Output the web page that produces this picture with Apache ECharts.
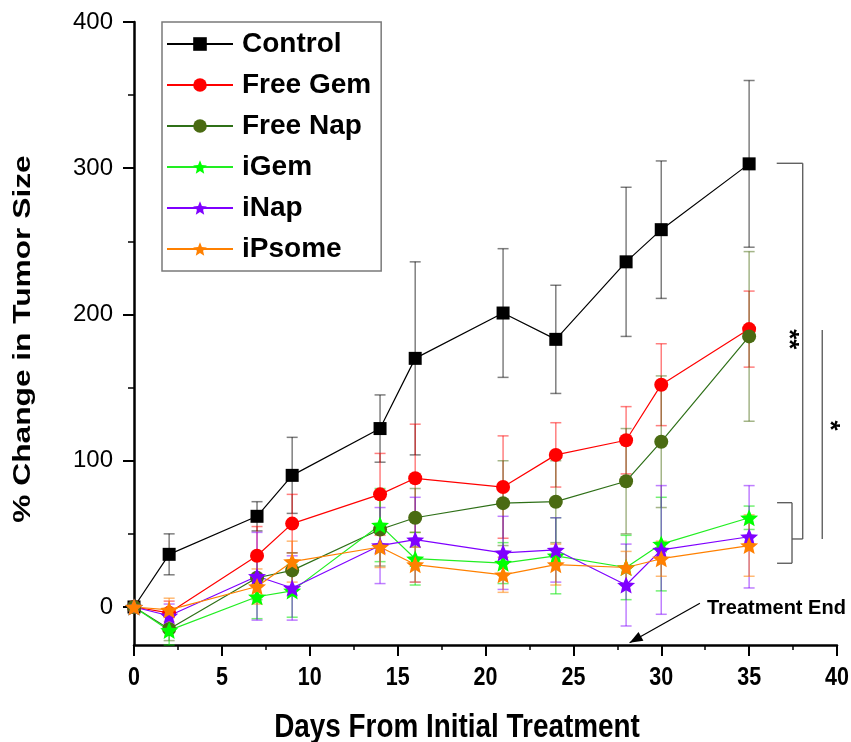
<!DOCTYPE html>
<html>
<head>
<meta charset="utf-8">
<script src="https://cdn.jsdelivr.net/npm/echarts@6/dist/echarts.min.js"></script>
<style>
  html, body { margin: 0; padding: 0; background: #fff; }
  #chart { width: 851px; height: 742px; }
</style>
</head>
<body>
<div id="chart"></div>
<script>
// Days after the first dose
const days = [0, 2, 7, 9, 14, 16, 21, 24, 28, 30, 35];

// Mean % change in tumor size per group, with error half-widths
const control    = [0, 36, 62, 90, 122, 170, 201, 183, 236, 258, 303];
const controlErr = [0, 14, 10, 26, 23, 66, 44, 37, 51, 47, 57];
const freeGem    = [0, -4, 35, 57, 77, 88, 82, 104, 114, 152, 190];
const freeGemErr = [0, 8, 20, 20, 28, 37, 35, 22, 23, 28, 26];
const freeNap    = [0, -15, 20, 25, 53, 61, 71, 72, 86, 113, 185];
const freeNapErr = [0, 8, 15, 12, 25, 20, 29, 28, 36, 45, 58];
const iGem       = [0, -16, 7, 11, 56, 33, 30, 35, 27, 43, 61];
const iGemErr    = [0, 10, 15, 18, 25, 18, 14, 26, 22, 32, 8];
const iNap       = [0, -6, 21, 13, 42, 46, 37, 39, 15, 39, 48];
const iNapErr    = [0, 8, 30, 22, 26, 29, 25, 22, 28, 44, 35];
const iPsome     = [0, -2, 14, 31, 41, 29, 22, 29, 27, 33, 42];
const iPsomeErr  = [0, 8, 12, 14, 14, 12, 12, 14, 11, 12, 21];

const groupNames = ['Control', 'Free Gem', 'Free Nap', 'iGem', 'iNap', 'iPsome'];

// Axis ticks
const xTicks = [0, 5, 10, 15, 20, 25, 30, 35, 40];
const yTicks = [0, 100, 200, 300, 400];
const yMinorTicks = [50, 150, 250, 350];

// Significance brackets, in axis units (day, % change)
const bracketSegments = [
  [36.57, 303.4, 38.05, 303.4],
  [38.05, 303.4, 38.05, 46.5],
  [37.44, 46.5, 38.05, 46.5],
  [37.44, 71.3, 37.44, 29.9],
  [36.59, 71.3, 37.44, 71.3],
  [36.59, 29.9, 37.44, 29.9],
  [39.16, 189.4, 39.16, 46.5]
];
const starMarks = [
  { text: '**', at: [37.25, 183] },
  { text: '*', at: [39.55, 124] }
];
const treatmentEnd = { text: 'Treatment End', at: [32.6, -0.7], arrowFrom: [32.2, 2.5], arrowTo: [28.2, -24.5] };

const STAR = 'path://M50,0L63.2,31.8L97.55,34.55L71.4,56.95L79.39,90.45L50,72.5L20.61,90.45L28.6,56.95L2.45,34.55L36.8,31.8Z';

const groups = [
  { name: 'Control',  vals: control, err: controlErr, color: '#000000', line: '#000000', errColor: 'rgba(0,0,0,0.5)', symbol: 'rect', size: 13 },
  { name: 'Free Gem', vals: freeGem, err: freeGemErr, color: '#ff0000', line: '#ff0000', errColor: 'rgba(255,0,0,0.5)', symbol: 'circle', size: 14 },
  { name: 'Free Nap', vals: freeNap, err: freeNapErr, color: '#4a6b12', line: '#2f7018', errColor: 'rgba(74,107,18,0.5)', symbol: 'circle', size: 14 },
  { name: 'iGem',     vals: iGem,    err: iGemErr,    color: '#00ff00', line: '#22ee22', errColor: 'rgba(0,230,0,0.55)', symbol: STAR, size: 18 },
  { name: 'iNap',     vals: iNap,    err: iNapErr,    color: '#7f00ff', line: '#7f00ff', errColor: 'rgba(127,0,255,0.5)', symbol: STAR, size: 18 },
  { name: 'iPsome',   vals: iPsome,  err: iPsomeErr,  color: '#ff8000', line: '#ff8000', errColor: 'rgba(255,128,0,0.55)', symbol: STAR, size: 18 }
];

function errorBarSeries(g) {
  return {
    type: 'custom',
    name: g.name + ' error',
    z: 2,
    silent: true,
    clip: false,
    data: days.map((d, i) => [d, g.vals[i], g.err[i]]),
    renderItem: function (params, api) {
      const x = api.value(0), y = api.value(1), e = api.value(2);
      if (!e) return null;
      const top = api.coord([x, y + e]);
      const bot = api.coord([x, y - e]);
      const half = 5.5;
      const style = { stroke: g.errColor, lineWidth: 1.5 };
      return {
        type: 'group',
        children: [
          { type: 'line', shape: { x1: top[0], y1: top[1], x2: bot[0], y2: bot[1] }, style: style },
          { type: 'line', shape: { x1: top[0] - half, y1: top[1], x2: top[0] + half, y2: top[1] }, style: style },
          { type: 'line', shape: { x1: bot[0] - half, y1: bot[1], x2: bot[0] + half, y2: bot[1] }, style: style }
        ]
      };
    }
  };
}

function lineSeries(g) {
  return {
    type: 'line',
    name: g.name,
    z: 3,
    data: days.map((d, i) => [d, g.vals[i]]),
    symbol: g.symbol,
    symbolSize: g.size,
    symbolKeepAspect: true,
    showAllSymbol: true,
    lineStyle: { color: g.line, width: 1.2 },
    itemStyle: { color: g.color, borderWidth: 0 },
    emphasis: { disabled: true },
    animation: false
  };
}

const series = [];
groups.forEach(g => series.push(errorBarSeries(g)));
groups.forEach(g => series.push(lineSeries(g)));

const chart = echarts.init(document.getElementById('chart'), null, { renderer: 'canvas' });

chart.setOption({
  animation: false,
  backgroundColor: '#ffffff',
  grid: { left: 134, right: 14, top: 22, bottom: 97, containLabel: false },
  legend: {
    data: groupNames,
    orient: 'vertical',
    left: 162,
    top: 22,
    itemWidth: 66,
    itemHeight: 17,
    itemGap: 13,
    padding: [8, 10, 8, 4],
    borderColor: '#7a7a7a',
    borderWidth: 1.5,
    selectedMode: false,
    textStyle: { fontFamily: 'Liberation Sans, Arial, sans-serif', fontWeight: 'bold', fontSize: 28, color: '#000', padding: [0, 0, 0, 4] }
  },
  xAxis: {
    type: 'value',
    min: 0,
    max: 40,
    interval: 5,
    axisLine: { onZero: false, lineStyle: { color: '#000', width: 2.5 } },
    axisTick: { show: true, length: 11, lineStyle: { color: '#000', width: 2 } },
    minorTick: { show: true, splitNumber: 2, length: 5, lineStyle: { color: '#000', width: 1.5 } },
    splitLine: { show: false },
    // tick labels are drawn below as condensed text
    axisLabel: { show: false }
  },
  yAxis: [
    {
      type: 'value',
      min: -26,
      max: 400,
      axisLine: { show: true, lineStyle: { color: '#000', width: 2.5 } },
      axisTick: { show: true, length: 11, lineStyle: { color: '#000', width: 2 }, customValues: yTicks },
      splitLine: { show: false },
      axisLabel: {
        margin: 21,
        fontFamily: 'Liberation Sans, Arial, sans-serif',
        fontSize: 24,
        color: '#000',
        customValues: yTicks
      }
    },
    {
      type: 'value',
      min: -26,
      max: 400,
      position: 'left',
      axisLine: { show: false },
      axisTick: { show: true, length: 6, lineStyle: { color: '#000', width: 1.5 }, customValues: yMinorTicks },
      axisLabel: { show: false },
      splitLine: { show: false }
    }
  ],
  series: series
});

// Axis titles, condensed x tick labels, brackets and the treatment note
const px = (p) => chart.convertToPixel({ xAxisIndex: 0, yAxisIndex: 0 }, p);
const graphics = [];

const yMinVal = chart.getModel().getComponent('yAxis', 0).axis.scale.getExtent()[0];
xTicks.forEach(v => {
  const p = px([v, yMinVal]);
  graphics.push({
    type: 'text',
    x: p[0], y: p[1] + 33,
    scaleX: 0.86,
    style: {
      text: String(v),
      font: 'bold 25px "Liberation Sans", Arial, sans-serif',
      fill: '#000',
      align: 'center',
      verticalAlign: 'middle'
    }
  });
});

graphics.push({
  type: 'text',
  x: 23, y: 339,
  rotation: Math.PI / 2,
  scaleX: 1.32,
  style: {
    text: '% Change in Tumor Size',
    font: 'bold 24px "Liberation Sans", Arial, sans-serif',
    fill: '#000',
    align: 'center',
    verticalAlign: 'middle'
  }
});
graphics.push({
  type: 'text',
  x: 457, y: 728,
  scaleX: 0.82,
  style: {
    text: 'Days From Initial Treatment',
    font: 'bold 34px "Liberation Sans", Arial, sans-serif',
    fill: '#000',
    align: 'center',
    verticalAlign: 'middle'
  }
});

bracketSegments.forEach(s => {
  const a = px([s[0], s[1]]), b = px([s[2], s[3]]);
  graphics.push({
    type: 'line',
    shape: { x1: a[0], y1: a[1], x2: b[0], y2: b[1] },
    style: { stroke: '#555', lineWidth: 1.3 }
  });
});

starMarks.forEach(m => {
  const p = px(m.at);
  graphics.push({
    type: 'text',
    x: p[0], y: p[1],
    rotation: -Math.PI / 2,
    style: {
      text: m.text,
      font: 'bold 26px "Liberation Sans", Arial, sans-serif',
      fill: '#000',
      align: 'center',
      verticalAlign: 'middle'
    }
  });
});

(function () {
  const t = px(treatmentEnd.at);
  graphics.push({
    type: 'text',
    x: t[0], y: t[1],
    style: {
      text: treatmentEnd.text,
      font: 'bold 20px "Liberation Sans", Arial, sans-serif',
      fill: '#000',
      align: 'left',
      verticalAlign: 'middle'
    }
  });
  const a = px(treatmentEnd.arrowFrom), b = px(treatmentEnd.arrowTo);
  graphics.push({
    type: 'line',
    shape: { x1: a[0], y1: a[1], x2: b[0], y2: b[1] },
    style: { stroke: '#000', lineWidth: 1.2 }
  });
  const ang = Math.atan2(b[1] - a[1], b[0] - a[0]);
  const L = 13, W = 5;
  const bx = b[0] - L * Math.cos(ang), by = b[1] - L * Math.sin(ang);
  graphics.push({
    type: 'polygon',
    shape: {
      points: [
        [b[0], b[1]],
        [bx + W * Math.sin(ang), by - W * Math.cos(ang)],
        [bx - W * Math.sin(ang), by + W * Math.cos(ang)]
      ]
    },
    style: { fill: '#000' }
  });
})();

chart.setOption({ graphic: graphics });
</script>
</body>
</html>
